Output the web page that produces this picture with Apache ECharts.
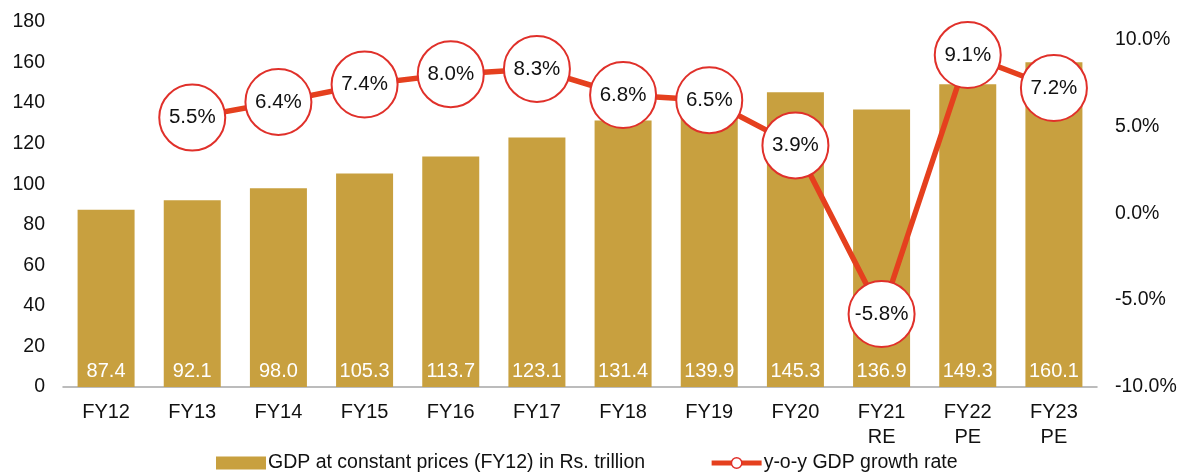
<!DOCTYPE html>
<html>
<head>
<meta charset="utf-8">
<script src="https://cdn.jsdelivr.net/npm/echarts@6/dist/echarts.min.js"></script>
<style>
  html, body { margin: 0; padding: 0; background: #fff; }
  #chart { width: 1188px; height: 475px; }
</style>
</head>
<body>
<div id="chart"></div>
<script>
var categories = ['FY12', 'FY13', 'FY14', 'FY15', 'FY16', 'FY17', 'FY18', 'FY19', 'FY20', 'FY21\nRE', 'FY22\nPE', 'FY23\nPE'];
var gdpValues = [87.4, 92.1, 98.0, 105.3, 113.7, 123.1, 131.4, 139.9, 145.3, 136.9, 149.3, 160.1];
var growthValues = [null, 5.5, 6.4, 7.4, 8.0, 8.3, 6.8, 6.5, 3.9, -5.8, 9.1, 7.2];

(function(){
  var myChart = echarts.init(document.getElementById('chart'));
  var font = 'Liberation Sans, Arial, sans-serif';
  var option = {
    animation: false,
    textStyle: { fontFamily: font },
    grid: { left: 63, right: 91, top: 22, bottom: 88 },
    legend: {
      top: 453,
      left: 216,
      padding: 0,
      itemGap: 64,
      itemWidth: 50,
      itemHeight: 13,
      textStyle: { fontSize: 19.5, color: '#111', fontFamily: font, padding: [0, 0, 0, -3] },
      data: [
        { name: 'GDP at constant prices (FY12) in Rs. trillion', icon: 'rect' },
        { name: 'y-o-y GDP growth rate', lineStyle: { width: 5 }, itemStyle: { borderWidth: 1.5 } }
      ]
    },
    xAxis: {
      type: 'category',
      data: categories,
      axisLine: { lineStyle: { color: '#a6a6a6', width: 1.5 } },
      axisTick: { show: false },
      axisLabel: { fontSize: 20, color: '#111', margin: 13, lineHeight: 25 }
    },
    yAxis: [
      {
        type: 'value',
        min: 0, max: 180, interval: 20,
        splitLine: { show: false },
        axisLine: { show: false },
        axisTick: { show: false },
        axisLabel: { fontSize: 19.5, color: '#111', margin: 18 }
      },
      {
        type: 'value',
        min: -10, max: 11, interval: 5,
        splitLine: { show: false },
        axisLine: { show: false },
        axisTick: { show: false },
        axisLabel: {
          fontSize: 19.5, color: '#111', margin: 18, showMaxLabel: false,
          formatter: function (v) { return v === 11 ? '' : v.toFixed(1) + '%'; }
        }
      }
    ],
    series: [
      {
        name: 'GDP at constant prices (FY12) in Rs. trillion',
        type: 'bar',
        data: gdpValues,
        barWidth: 57,
        itemStyle: { color: '#C8A03F' },
        label: {
          show: true,
          position: 'insideBottom',
          distance: 6,
          color: '#fff',
          fontSize: 20,
          formatter: function (p) { return p.value.toFixed(1); }
        }
      },
      {
        name: 'y-o-y GDP growth rate',
        type: 'line',
        yAxisIndex: 1,
        data: growthValues,
        symbol: 'circle',
        symbolSize: 66,
        lineStyle: { color: '#E5401E', width: 5.5 },
        itemStyle: { color: '#fff', borderColor: '#E0302A', borderWidth: 2 },
        label: {
          show: true,
          position: 'inside',
          color: '#111',
          fontSize: 20.5,
          formatter: function (p) { return p.value.toFixed(1) + '%'; }
        },
        z: 3
      }
    ]
  };
  myChart.setOption(option);
  window.addEventListener('resize', function() {
    myChart.resize();
  });
})();
</script>
</body>
</html>
